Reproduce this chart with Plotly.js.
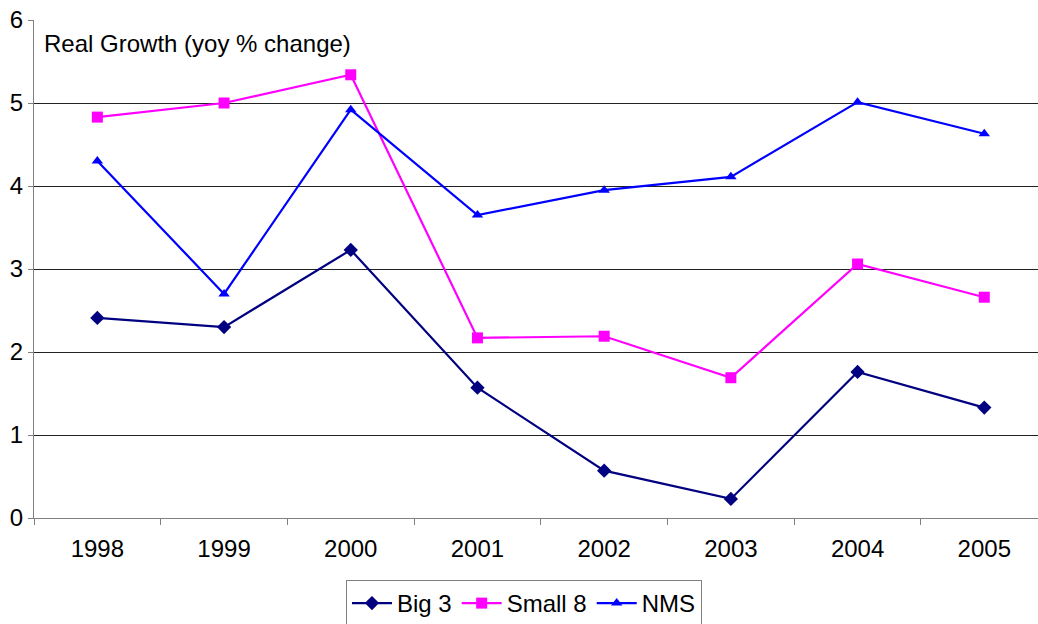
<!DOCTYPE html>
<html>
<head>
<meta charset="utf-8">
<script src="https://cdn.plot.ly/plotly-3.0.1.min.js"></script>
<style>html,body{margin:0;padding:0;background:#fff;}#chart{width:1038px;height:624px;}</style>
</head>
<body>
<div id="chart"></div>
<script>
const years = ['1998','1999','2000','2001','2002','2003','2004','2005'];
const big3 = [2.41, 2.30, 3.23, 1.57, 0.57, 0.23, 1.76, 1.33];
const small8 = [4.83, 5.00, 5.34, 2.17, 2.19, 1.69, 3.06, 2.66];
const nms = [4.30, 2.70, 4.92, 3.65, 3.95, 4.11, 5.01, 4.63];
const yTicks = [0, 1, 2, 3, 4, 5, 6];

const FS = 24;
const traces = [
  {x: years, y: big3, name: 'Big 3', type: 'scatter', mode: 'lines+markers',
   line: {color: '#000080', width: 2.2}, marker: {symbol: 'diamond', size: 11, color: '#000080'}},
  {x: years, y: small8, name: 'Small 8', type: 'scatter', mode: 'lines+markers',
   line: {color: '#FF00FF', width: 2.2}, marker: {symbol: 'square', size: 11, color: '#FF00FF'}},
  {x: years, y: nms, name: 'NMS', type: 'scatter', mode: 'lines+markers',
   line: {color: '#0000FF', width: 2.2}, marker: {symbol: 'triangle-up', size: 10, color: '#0000FF'}}
];

const layout = {
  width: 1038, height: 624,
  margin: {l: 34, r: 0, t: 20, b: 106, autoexpand: false},
  paper_bgcolor: '#ffffff', plot_bgcolor: '#ffffff',
  font: {family: 'Liberation Sans, Arial, sans-serif', size: FS, color: '#000'},
  showlegend: true,
  title: {text: 'Real Growth (yoy % change)', xref: 'paper', yref: 'paper', x: 0.01, xanchor: 'left', y: 0.952, yanchor: 'middle',
          font: {family: 'Liberation Sans, Arial, sans-serif', size: FS, color: '#000'}},
  xaxis: {type: 'category', range: [-0.5, 7.424], showgrid: false, zeroline: false,
          showline: true, linecolor: '#808080', linewidth: 1, automargin: false,
          ticks: 'outside', tickson: 'boundaries', ticklen: 6, tickcolor: '#808080',
          ticklabelstandoff: 9, tickfont: {size: FS}, fixedrange: true},
  yaxis: {range: [0, 6], tickvals: yTicks, showgrid: true, gridcolor: '#222222', gridwidth: 1,
          zeroline: false, showline: true, linecolor: '#808080', linewidth: 1, automargin: false,
          ticks: 'outside', ticklen: 5, tickcolor: '#808080', tickfont: {size: FS}, fixedrange: true},
  legend: {orientation: 'h', xref: 'container', yref: 'container', x: 0.3333, xanchor: 'left', y: 0.0705, yanchor: 'top',
           bordercolor: '#808080', borderwidth: 1, bgcolor: '#fff', font: {size: FS},
           itemwidth: 40, tracegroupgap: 0}
};

Plotly.newPlot('chart', traces, layout, {displayModeBar: false, staticPlot: true});
</script>
</body>
</html>
